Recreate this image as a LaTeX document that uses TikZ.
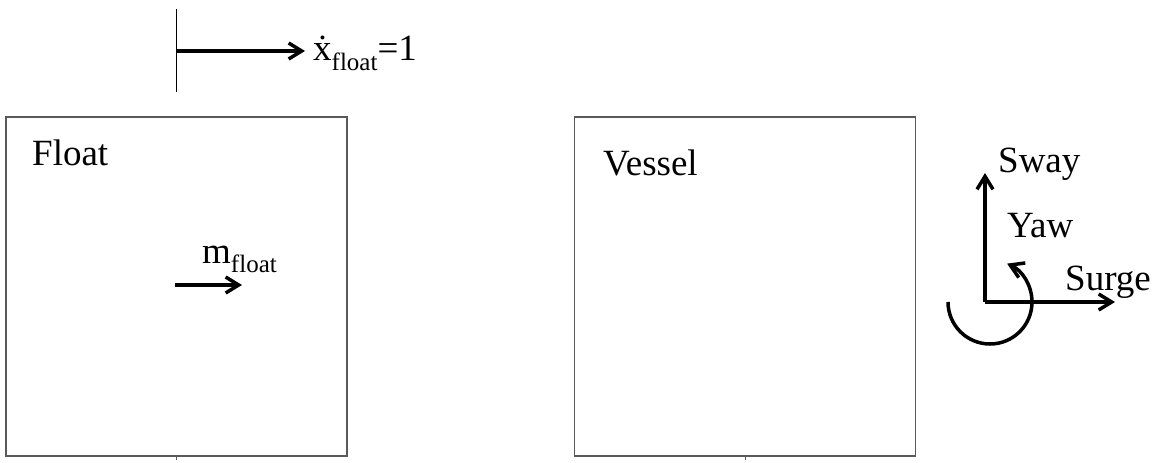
\documentclass[tikz,border=0pt]{standalone}
\usepackage{fontspec}
\setmainfont{Liberation Serif}
\usetikzlibrary{arrows.meta, positioning, calc}
\definecolor{frame}{RGB}{90,90,90}
\newcommand{\lowsub}[2]{\raisebox{-#1}{\fontsize{25}{30}\selectfont #2}}

\begin{document}
\begin{tikzpicture}[
        x=1pt, y=-1pt,
        body/.style={rectangle, draw=frame, line width=1.2pt, minimum width=341pt, minimum height=339pt, inner sep=0pt},
        lbl/.style={inner sep=0pt, font=\fontsize{37}{44}\selectfont, anchor=base west},
        arrow/.style={-{Straight Barb[length=13pt, width=16pt]}, line width=3.5pt},
        thinline/.style={line width=1pt}
    ]
        \useasboundingbox (0,0) rectangle (1160,463);

        % the two bodies
        \node[body] (float) at (176.5,286.5) {};
        \node[body] (vessel) at (745,286.5) {};
        \node[lbl] (floatname) at (32,165) {Float};
        \node[lbl] (vesselname) at (603,175) {Vessel};
        \draw[frame, thinline] (float.south) -- ++(0,3);
        \draw[frame, thinline] (vessel.south) -- ++(0,3);

        % velocity input
        \coordinate (wallA) at (176,9);
        \coordinate (wallB) at (176,92);
        \coordinate (velstart) at (176,51);
        \coordinate (velend) at (305,51);
        \node[lbl] (vel) at (313,60) {\.{x}\lowsub{10pt}{float}=1};
        \draw[thinline] (wallA) -- (wallB);
        \draw[arrow] (velstart) -- (velend);

        % float mass
        \coordinate (massstart) at (175,285);
        \coordinate (massend) at (242,285);
        \node[lbl] (mass) at (202,263) {m\lowsub{9pt}{float}};
        \draw[arrow] (massstart) -- (massend);

        % vessel axes
        \coordinate (origin) at (985,302);
        \coordinate (swayend) at (985,173);
        \coordinate (surgeend) at (1115,302);
        \coordinate (yawstart) at (948,302);
        \node[lbl] (sway) at (998,172) {Sway};
        \node[lbl] (yaw) at (1007,237) {Yaw};
        \node[lbl] (surge) at (1065,290) {Surge};
        \draw[arrow] (origin) -- (swayend);
        \draw[arrow] (origin) -- (surgeend);
        \draw[arrow] (yawstart) arc[start angle=180, end angle=-66, radius=42];
    \end{tikzpicture}
\end{document}
